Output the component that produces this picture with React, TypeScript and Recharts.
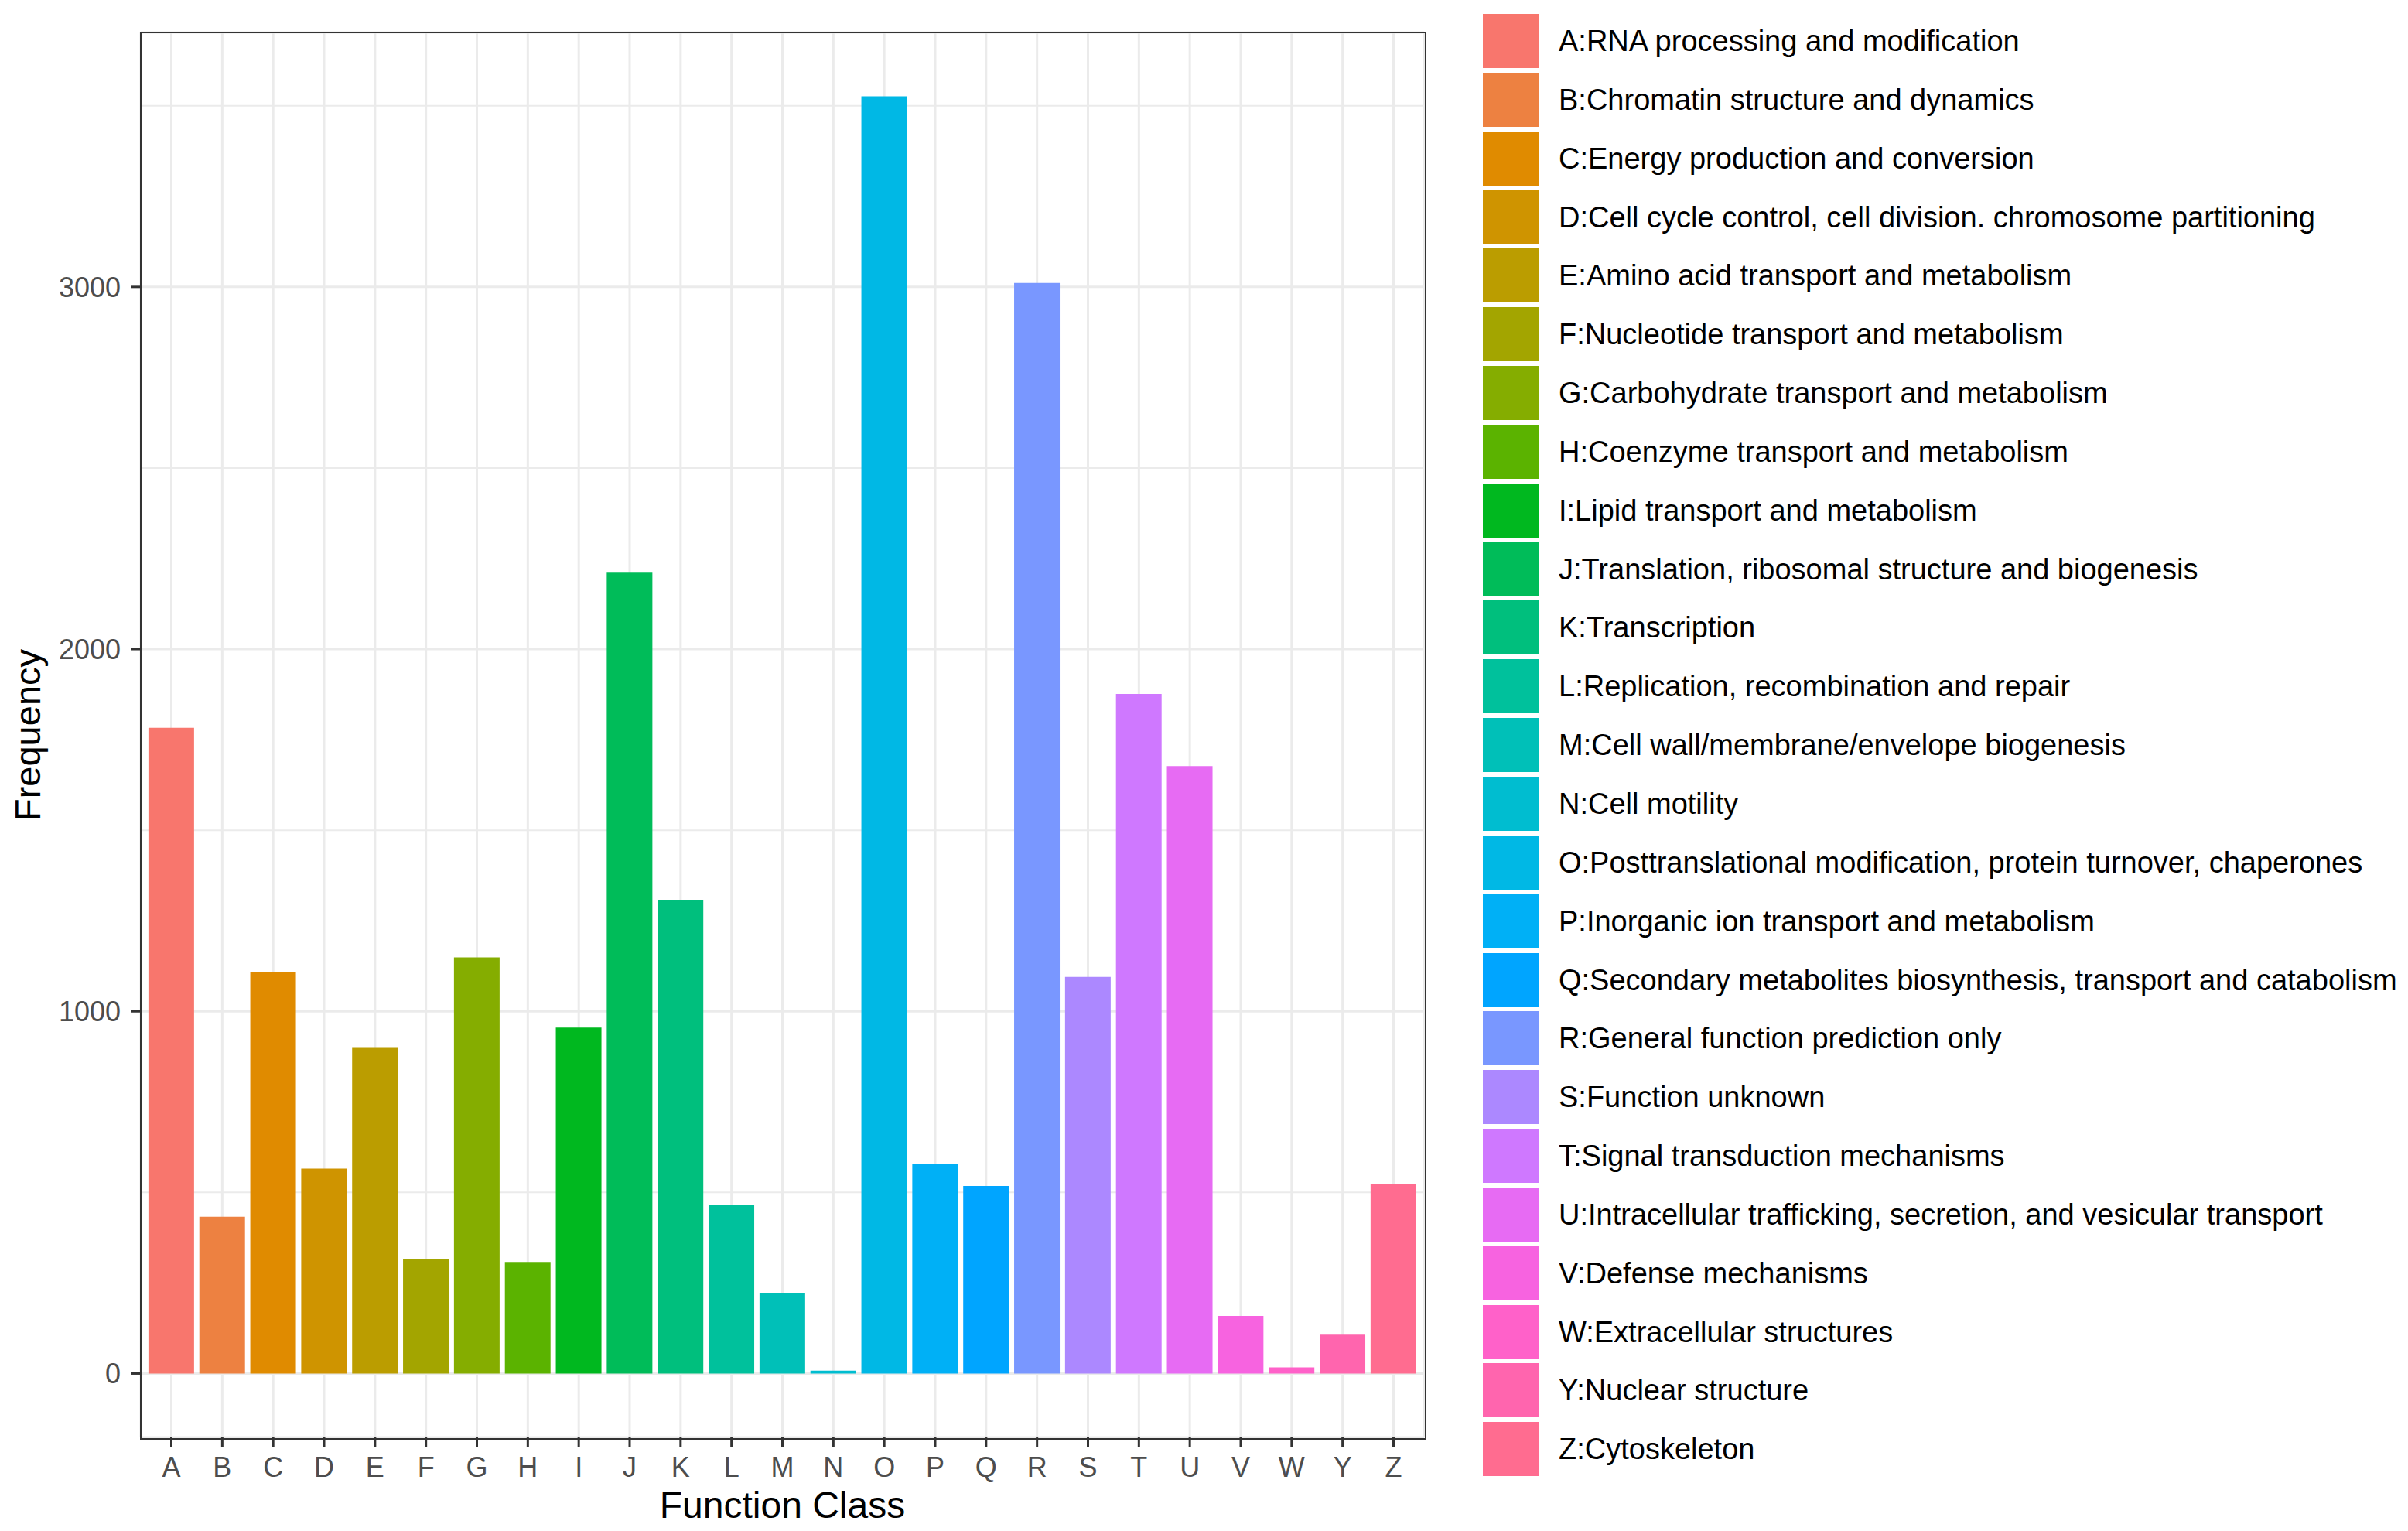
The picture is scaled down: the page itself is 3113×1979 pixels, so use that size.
import { Bar, BarChart, CartesianGrid, Cell, XAxis, YAxis } from "recharts";

const classes = ["A", "B", "C", "D", "E", "F", "G", "H", "I", "J", "K", "L", "M", "N", "O", "P", "Q", "R", "S", "T", "U", "V", "W", "Y", "Z"];

const frequencies = [1783, 433, 1108, 566, 899, 317, 1149, 308, 955, 2211, 1307, 466, 222, 8, 3526, 578, 518, 3011, 1095, 1876, 1677, 159, 17, 107, 523];

const descriptions = [
  "A:RNA processing and modification",
  "B:Chromatin structure and dynamics",
  "C:Energy production and conversion",
  "D:Cell cycle control, cell division. chromosome partitioning",
  "E:Amino acid transport and metabolism",
  "F:Nucleotide transport and metabolism",
  "G:Carbohydrate transport and metabolism",
  "H:Coenzyme transport and metabolism",
  "I:Lipid transport and metabolism",
  "J:Translation, ribosomal structure and biogenesis",
  "K:Transcription",
  "L:Replication, recombination and repair",
  "M:Cell wall/membrane/envelope biogenesis",
  "N:Cell motility",
  "O:Posttranslational modification, protein turnover, chaperones",
  "P:Inorganic ion transport and metabolism",
  "Q:Secondary metabolites biosynthesis, transport and catabolism",
  "R:General function prediction only",
  "S:Function unknown",
  "T:Signal transduction mechanisms",
  "U:Intracellular trafficking, secretion, and vesicular transport",
  "V:Defense mechanisms",
  "W:Extracellular structures",
  "Y:Nuclear structure",
  "Z:Cytoskeleton",
];

const yTicks = [0, 1000, 2000, 3000];
const minorTicks = [500, 1500, 2500, 3500];

// ggplot-style hue palette (HCL, l=65, c=100)
function hclColor(h: number) {
  const l = 65, c = 100;
  const hr = (h * Math.PI) / 180;
  const U = c * Math.cos(hr), V = c * Math.sin(hr);
  const Y = Math.pow((l + 16) / 116, 3);
  const XN = 95.047, YN = 100, ZN = 108.883;
  const den = XN + 15 * YN + 3 * ZN;
  const un = (4 * XN) / den, vn = (9 * YN) / den;
  const u = U / (13 * l) + un, v = V / (13 * l) + vn;
  const X = (9 * Y * u) / (4 * v);
  const Z = -X / 3 - 5 * Y + (3 * Y) / v;
  const lin = [
    3.240479 * X - 1.53715 * Y - 0.498535 * Z,
    -0.969256 * X + 1.875992 * Y + 0.041556 * Z,
    0.055648 * X - 0.204043 * Y + 1.057311 * Z,
  ];
  const hex = lin
    .map((t) => (t <= 0.0031308 ? 12.92 * t : 1.055 * Math.pow(t, 1 / 2.4) - 0.055))
    .map((t) => Math.round(Math.min(1, Math.max(0, t)) * 255).toString(16).padStart(2, "0"))
    .join("");
  return "#" + hex;
}

const colors = classes.map((_, i) => hclColor((15 + (i * 360) / classes.length) % 360));

const data = classes.map((name, i) => ({ name, value: frequencies[i] }));

const FONT = '"Liberation Sans", Arial, Helvetica, sans-serif';
const maxVal = Math.max(...frequencies);
const pad = maxVal * 0.05;
const BORDER = "#333333";

const W = 3113, H = 1979;
const margin = { top: 42, right: 1272, bottom: 0, left: 0 };
const Y_AXIS_W = 182, X_AXIS_H = 121;
// plot panel box, derived from the chart layout above
const panel = {
  left: margin.left + Y_AXIS_W,
  top: margin.top,
  width: W - margin.left - margin.right - Y_AXIS_W,
  height: H - margin.top - margin.bottom - X_AXIS_H,
};

export default function App() {
  return (
    <div style={{ position: "absolute", left: 0, top: 0, width: W, height: H, background: "#fff", fontFamily: FONT }}>
      <BarChart width={W} height={H} data={data} margin={margin} barCategoryGap="5%">
        <CartesianGrid stroke="#EBEBEB" strokeWidth={2} vertical={false} horizontalValues={minorTicks} />
        <CartesianGrid stroke="#EBEBEB" strokeWidth={3} />
        <XAxis
          dataKey="name"
          type="category"
          interval={0}
          height={X_AXIS_H}
          padding={{ left: 6.6, right: 6.6 }}
          tickSize={12}
          tickMargin={13}
          tick={{ fontSize: 36, fill: "#4D4D4D" }}
          tickLine={{ stroke: BORDER, strokeWidth: 3 }}
          axisLine={false}
          label={{
            content: ({ viewBox }: any) => (
              <text x={viewBox.x + viewBox.width / 2} y={1962} textAnchor="middle" fontSize={48} fill="#000">
                Function Class
              </text>
            ),
          }}
        />
        <YAxis
          type="number"
          domain={[-pad, maxVal + pad]}
          allowDataOverflow
          ticks={yTicks}
          width={Y_AXIS_W}
          tickSize={13}
          tickMargin={13}
          tick={{ fontSize: 36, fill: "#4D4D4D" }}
          tickLine={{ stroke: BORDER, strokeWidth: 3 }}
          axisLine={false}
          label={{
            content: ({ viewBox }: any) => {
              const cy = viewBox.y + viewBox.height / 2;
              return (
                <text x={52} y={cy} transform={`rotate(-90, 52, ${cy})`} textAnchor="middle" fontSize={47} fill="#000">
                  Frequency
                </text>
              );
            },
          }}
        />
        <Bar dataKey="value" isAnimationActive={false}>
          {data.map((d, i) => (
            <Cell key={d.name} fill={colors[i]} />
          ))}
        </Bar>
      </BarChart>
      <div
        style={{
          position: "absolute",
          left: panel.left - 1.25,
          top: panel.top - 1.25,
          width: panel.width,
          height: panel.height,
          border: `2.5px solid ${BORDER}`,
          pointerEvents: "none",
        }}
      />
      <div style={{ position: "absolute", left: 1917, top: 53 - 37.9, fontSize: 38, color: "#000" }}>
        {descriptions.map((label, i) => (
          <div key={label} style={{ display: "flex", alignItems: "center", height: 75.85 }}>
            <div style={{ width: 72, height: 70, background: colors[i] }} />
            <span style={{ marginLeft: 26, whiteSpace: "nowrap", lineHeight: 1 }}>{label}</span>
          </div>
        ))}
      </div>
    </div>
  );
}
